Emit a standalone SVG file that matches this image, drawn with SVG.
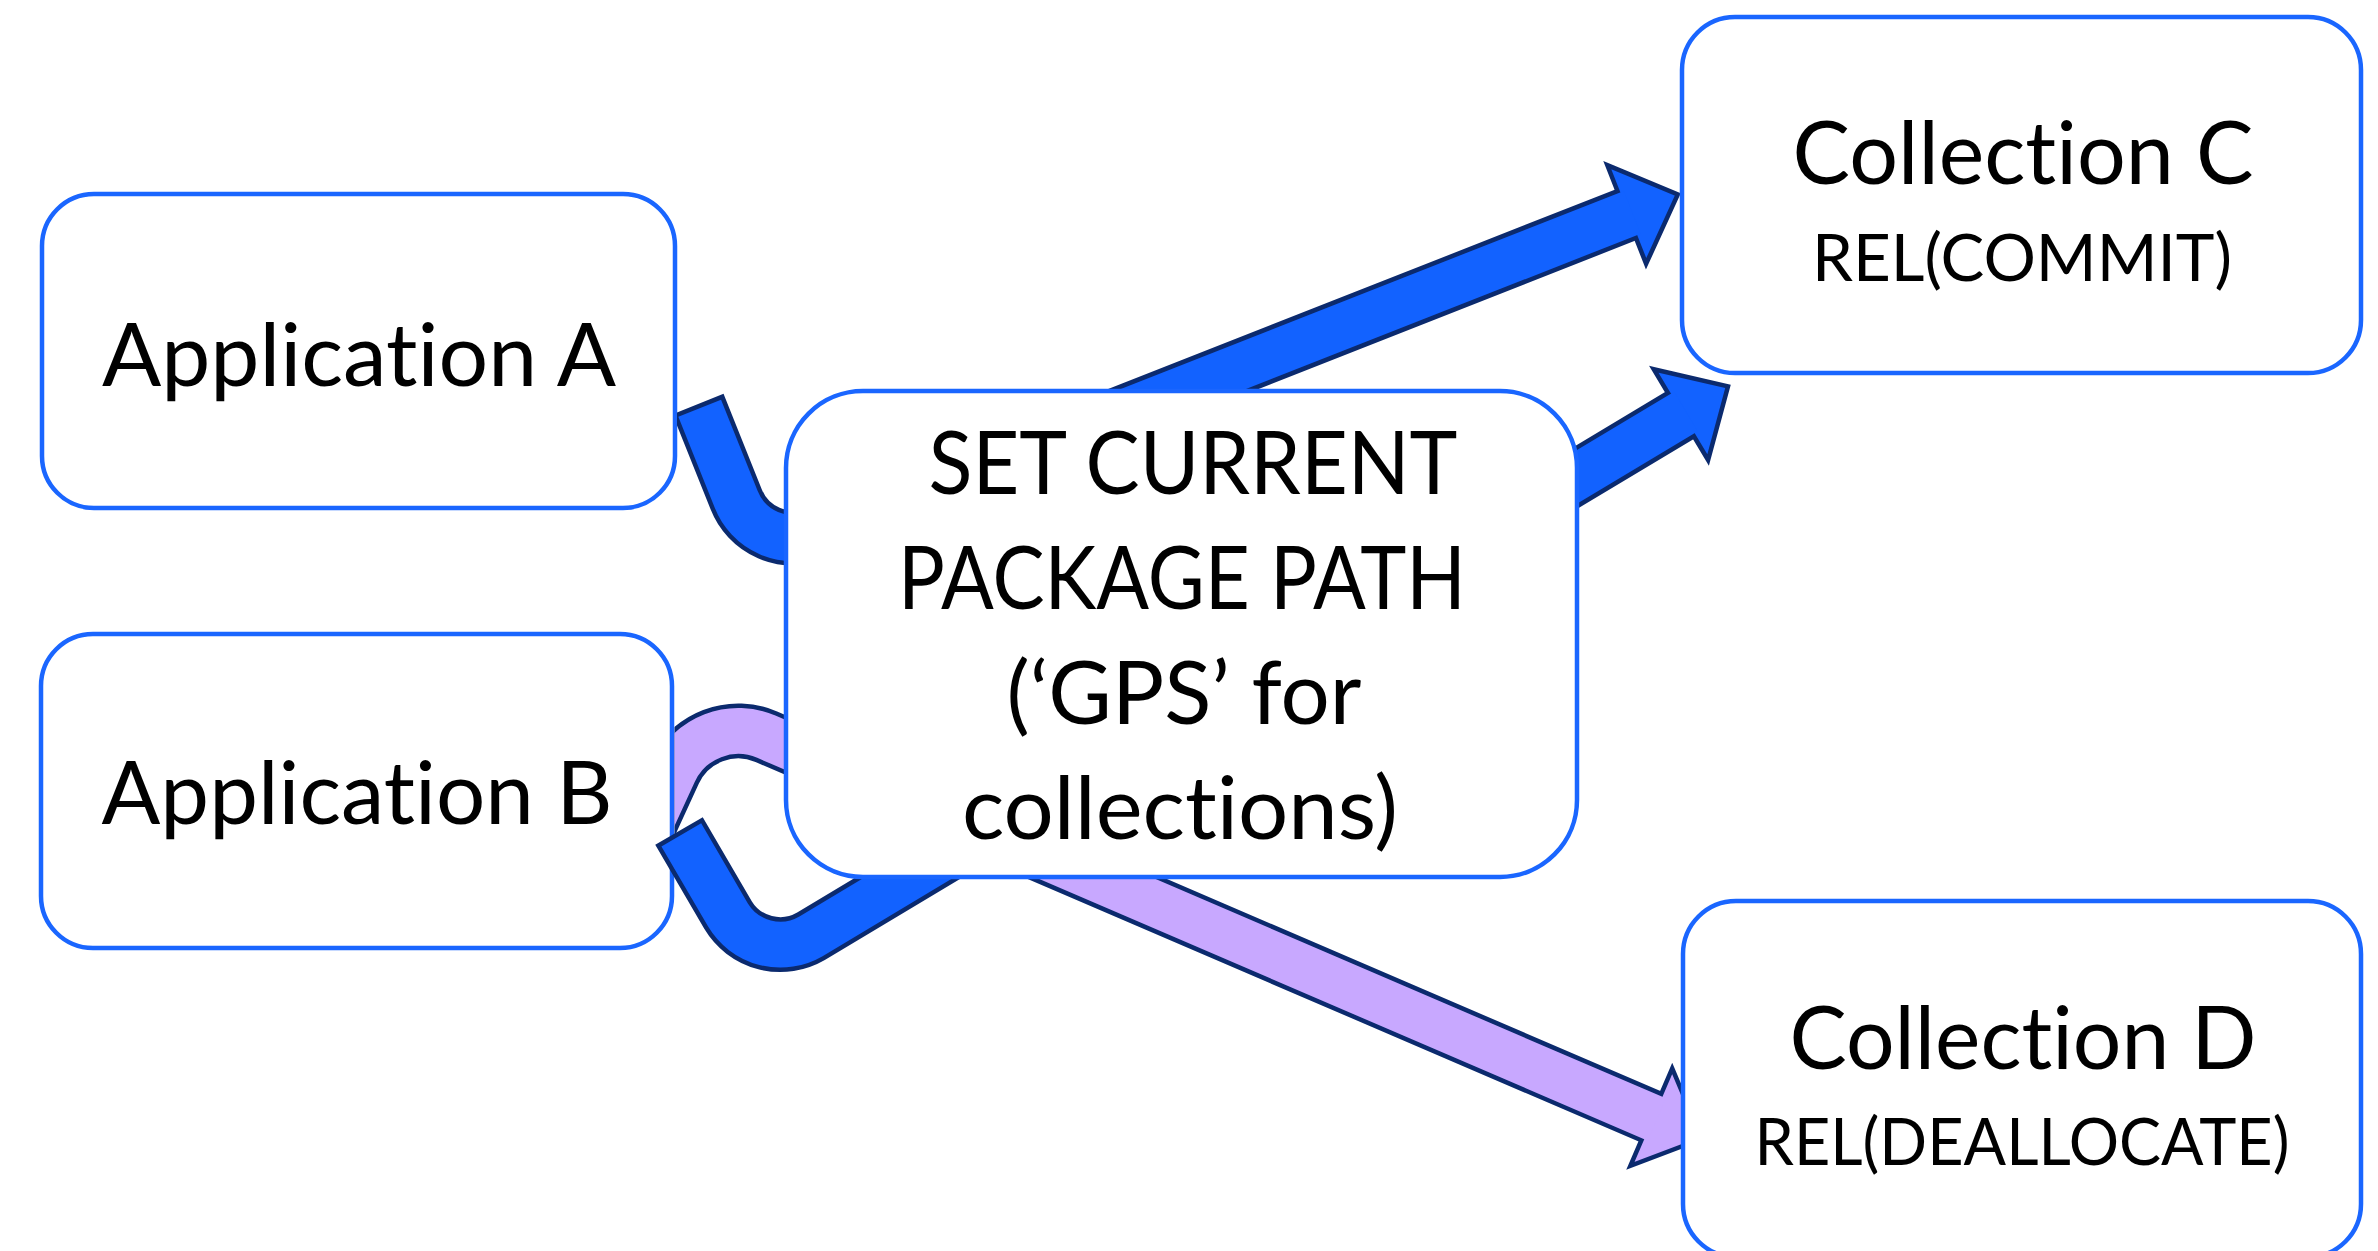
<svg xmlns="http://www.w3.org/2000/svg" width="2378" height="1251" viewBox="0 0 2378 1251">
<style>
.box{fill:#ffffff;stroke:#1a66ff;stroke-width:4.5}
.t{font-family:Lato,"Open Sans","Liberation Sans",sans-serif;fill:#000000;text-anchor:middle;font-variant-ligatures:none;font-feature-settings:"liga" 0,"clig" 0,"dlig" 0}
.big{font-size:87px}
.small{font-size:65px}
.edge{fill:none;stroke:#0b2a6e;stroke-width:55;stroke-linejoin:round;stroke-linecap:butt}
.core{fill:none;stroke-width:46;stroke-linejoin:round;stroke-linecap:butt}
.head{stroke:#0b2a6e;stroke-width:4.5;stroke-linejoin:miter}
.cb{stroke:#1262ff}
.cl{stroke:#c8a8ff}
.fb{fill:#1262ff}
.fl{fill:#c8a8ff}
</style>
<defs>
<clipPath id="clipA"><rect x="677" y="0" width="1701" height="1251"/></clipPath>
<clipPath id="clipB"><rect x="674.5" y="0" width="1704" height="1251"/></clipPath>
</defs>
<rect x="0" y="0" width="2378" height="1251" fill="#ffffff"/>

<g id="app-a">
<rect class="box" x="42" y="194" width="633" height="314" rx="52"/>
<text class="t big" x="359" y="386" textLength="514" lengthAdjust="spacingAndGlyphs">Application A</text>
</g>
<g id="app-b">
<rect class="box" x="41" y="634" width="631" height="314" rx="52"/>
<text class="t big" x="357" y="824" textLength="511" lengthAdjust="spacingAndGlyphs">Application B</text>
</g>

<g id="connectors">
<g id="arrow-b-to-d" clip-path="url(#clipB)">
<path class="edge" d="M640 846 L673.9 772.1 A71 71 0 0 1 766.3 736.7 L1651.3 1117.1"/>
<polygon class="head fl" points="1672.2,1068.4 1701.8,1138.8 1630.4,1165.8"/>
<path class="core cl" d="M641.7 842.4 L673.9 772.1 A71 71 0 0 1 766.3 736.7 L1656.8 1119.5"/>
</g>
<g id="arrow-a-to-c" clip-path="url(#clipA)">
<path class="edge" d="M698 404 L736.2 499.4 A61 61 0 0 0 815.7 533.7 L1626.7 214.5"/>
<polygon class="head fb" points="1607.3,165.2 1677.8,194.4 1646.1,263.8"/>
<path class="core cb" d="M699.7 408.2 L736.2 499.4 A61 61 0 0 0 815.7 533.7 L1632.3 212.3"/>
</g>
<g id="arrow-b-to-c">
<path class="edge" d="M679 831 L728 915 A61 61 0 0 0 811 936.3 L1680.9 414.6"/>
<polygon class="head fb" points="1653.7,369.2 1728,386.3 1708.1,460"/>
<path class="core cb" d="M681.3 834.9 L728 915 A61 61 0 0 0 811 936.3 L1686 411.5"/>
</g>
</g>

<g id="gps">
<rect class="box" x="786" y="391" width="791" height="486" rx="77"/>
<text class="t big" x="1193" y="494" textLength="529" lengthAdjust="spacingAndGlyphs">SET CURRENT</text>
<text class="t big" x="1182" y="609" textLength="568" lengthAdjust="spacingAndGlyphs">PACKAGE PATH</text>
<text class="t big" x="1184" y="724" textLength="355" lengthAdjust="spacingAndGlyphs">(‘GPS’ for</text>
<text class="t big" x="1180" y="839" textLength="436" lengthAdjust="spacingAndGlyphs">collections)</text>
</g>
<g id="collection-c">
<rect class="box" x="1682" y="17" width="679" height="356" rx="53"/>
<text class="t big" x="2023" y="184" textLength="461" lengthAdjust="spacingAndGlyphs">Collection C</text>
<text class="t small" x="2022" y="281" textLength="420" lengthAdjust="spacingAndGlyphs">REL(COMMIT)</text>
</g>
<g id="collection-d">
<rect class="box" x="1683" y="901" width="678" height="356" rx="53"/>
<text class="t big" x="2023" y="1069" textLength="467" lengthAdjust="spacingAndGlyphs">Collection D</text>
<text class="t small" x="2022" y="1165" textLength="535" lengthAdjust="spacingAndGlyphs">REL(DEALLOCATE)</text>
</g>
</svg>
